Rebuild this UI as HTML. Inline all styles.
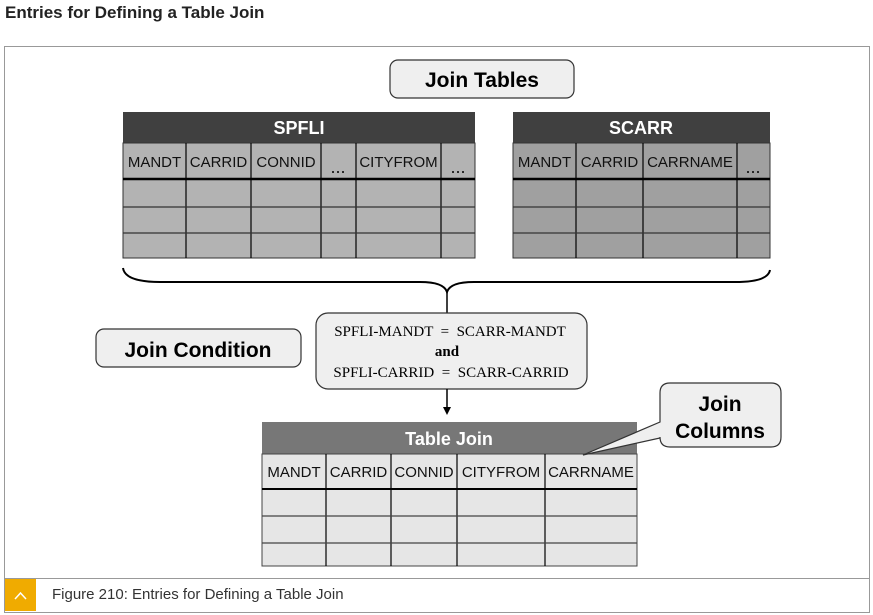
<!DOCTYPE html>
<html><head><style>
body{margin:0;width:873px;height:615px;background:#fff;position:relative;font-family:"Liberation Sans",sans-serif;overflow:hidden}
.a{position:absolute}
text{white-space:pre}
</style></head><body>
<div class="a" style="left:5px;top:3px;font-size:17px;font-weight:bold;color:#222">Entries for Defining a Table Join</div>
<div class="a" style="left:4px;top:46px;width:864px;height:565px;border:1px solid #999;"></div>
<div class="a" style="left:4px;top:578px;width:865px;height:1px;background:#999"></div>
<div class="a" style="left:5px;top:579px;width:31px;height:32px;background:#f0ab00"></div>
<svg class="a" style="left:5px;top:579px" width="31" height="32"><polyline points="10,20 15.5,14 21,20" fill="none" stroke="#fff" stroke-width="1.5"/></svg>
<div class="a" style="left:52px;top:586px;font-size:15px;color:#333">Figure 210: Entries for Defining a Table Join</div>
<svg class="a" style="left:0;top:0" width="873" height="578" font-family="Liberation Sans, sans-serif">
<!-- Join Tables -->
<rect x="390" y="60" width="184" height="38" rx="8" fill="#efefef" stroke="#333" stroke-width="1.2"/>
<text x="482" y="87" font-size="21" font-weight="bold" text-anchor="middle">Join Tables</text>
<!-- SPFLI -->
<rect x="123" y="112" width="352" height="31" fill="#404040"/>
<text x="299" y="134" font-size="18" font-weight="bold" fill="#fff" text-anchor="middle">SPFLI</text>
<rect x="123" y="143" width="352" height="115" fill="#b3b3b3" stroke="#333"/>
<g stroke="#000" stroke-width="1.2">
<line x1="186" y1="143" x2="186" y2="258"/><line x1="251" y1="143" x2="251" y2="258"/><line x1="321" y1="143" x2="321" y2="258"/><line x1="356" y1="143" x2="356" y2="258"/><line x1="441" y1="143" x2="441" y2="258"/>
<line x1="123" y1="179" x2="475" y2="179" stroke-width="2.5"/><line x1="123" y1="207" x2="475" y2="207" stroke="#333"/><line x1="123" y1="233" x2="475" y2="233" stroke="#333"/></g>
<g font-size="15" fill="#111" text-anchor="middle"><text x="154.5" y="167">MANDT</text><text x="218.5" y="167">CARRID</text><text x="286" y="167">CONNID</text><text x="338" y="173" font-size="18">...</text><text x="398.5" y="167">CITYFROM</text><text x="458" y="173" font-size="18">...</text></g>
<!-- SCARR -->
<rect x="513" y="112" width="257" height="31" fill="#404040"/>
<text x="641" y="134" font-size="18" font-weight="bold" fill="#fff" text-anchor="middle">SCARR</text>
<rect x="513" y="143" width="257" height="115" fill="#a0a0a0" stroke="#333"/>
<g stroke="#000" stroke-width="1.2">
<line x1="576" y1="143" x2="576" y2="258"/><line x1="643" y1="143" x2="643" y2="258"/><line x1="737" y1="143" x2="737" y2="258"/>
<line x1="513" y1="179" x2="770" y2="179" stroke-width="2.5"/><line x1="513" y1="207" x2="770" y2="207" stroke="#333"/><line x1="513" y1="233" x2="770" y2="233" stroke="#333"/></g>
<g font-size="15" fill="#111" text-anchor="middle"><text x="544.5" y="167">MANDT</text><text x="609.5" y="167">CARRID</text><text x="690" y="167">CARRNAME</text><text x="753" y="173" font-size="18">...</text></g>
<!-- brace -->
<path d="M123,268 Q125,282 160,282 L420,282 Q444,282 447,292 Q450,282 474,282 L735,282 Q768,282 770,270" fill="none" stroke="#000" stroke-width="2"/>
<line x1="447" y1="292" x2="447" y2="313" stroke="#000" stroke-width="1.5"/>
<!-- Join Condition -->
<rect x="96" y="329" width="205" height="38" rx="8" fill="#efefef" stroke="#333" stroke-width="1.2"/>
<text x="198" y="357" font-size="21" font-weight="bold" text-anchor="middle">Join Condition</text>
<rect x="316" y="313" width="271" height="76" rx="12" fill="#efefef" stroke="#333" stroke-width="1.2"/>
<g font-family="Liberation Serif, serif" font-size="15" text-anchor="middle"><text x="450" y="336">SPFLI-MANDT  =  SCARR-MANDT</text><text x="447" y="356" font-weight="bold">and</text><text x="451" y="377">SPFLI-CARRID  =  SCARR-CARRID</text></g>
<line x1="447" y1="389" x2="447" y2="408" stroke="#000" stroke-width="1.5"/><path d="M443,407 L451,407 L447,415 z"/>
<!-- Table Join -->
<rect x="262" y="422" width="375" height="32" fill="#777"/>
<text x="449" y="445" font-size="18" font-weight="bold" fill="#fff" text-anchor="middle">Table Join</text>
<rect x="262" y="454" width="375" height="112" fill="#e6e6e6" stroke="#444"/>
<g stroke="#000" stroke-width="1.2">
<line x1="326" y1="454" x2="326" y2="566"/><line x1="391" y1="454" x2="391" y2="566"/><line x1="457" y1="454" x2="457" y2="566"/><line x1="545" y1="454" x2="545" y2="566"/>
<line x1="262" y1="489" x2="637" y2="489" stroke-width="2"/><line x1="262" y1="516" x2="637" y2="516" stroke="#444"/><line x1="262" y1="543" x2="637" y2="543" stroke="#444"/></g>
<g font-size="15" fill="#111" text-anchor="middle"><text x="294" y="477">MANDT</text><text x="358.5" y="477">CARRID</text><text x="424" y="477">CONNID</text><text x="501" y="477">CITYFROM</text><text x="591" y="477">CARRNAME</text></g>
<!-- callout -->
<path d="M670,383 L771,383 Q781,383 781,393 L781,437 Q781,447 771,447 L670,447 Q660,447 660,437 L660,438 L583,455 L660,422 L660,393 Q660,383 670,383 z" fill="#efefef" stroke="#333" stroke-width="1.2"/>
<text x="720" y="411" font-size="21" font-weight="bold" text-anchor="middle">Join</text>
<text x="720" y="438" font-size="21" font-weight="bold" text-anchor="middle">Columns</text>
</svg>
</body></html>
